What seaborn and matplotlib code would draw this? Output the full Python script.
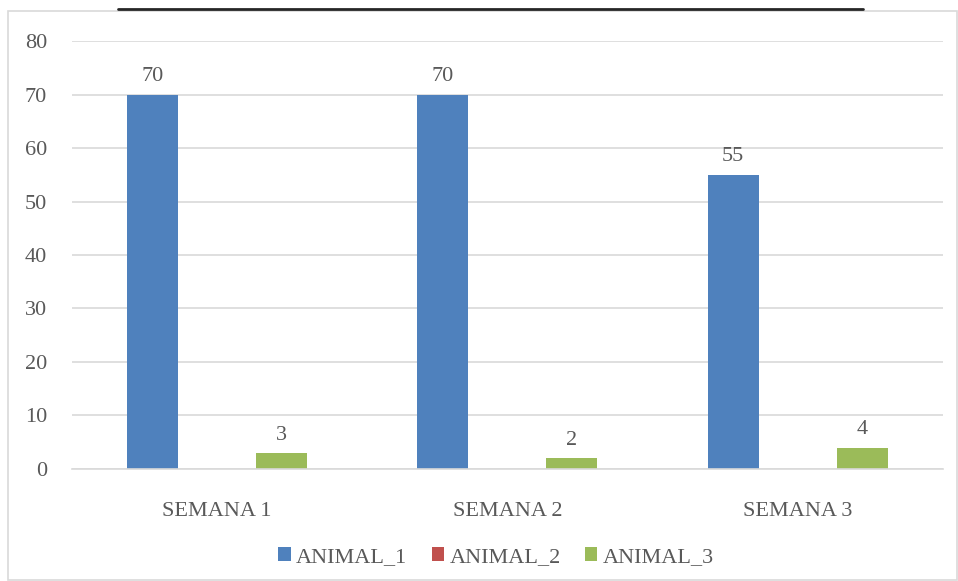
import pandas as pd
import matplotlib.pyplot as plt
import matplotlib.patches as mpatches
import matplotlib.lines as mlines
import seaborn as sns

# Data
semanas = ['SEMANA 1', 'SEMANA 2', 'SEMANA 3']
animal_1 = [70, 70, 55]
animal_2 = [0, 0, 0]
animal_3 = [3, 2, 4]
series_names = ['ANIMAL_1', 'ANIMAL_2', 'ANIMAL_3']
colors = ['#4F81BD', '#C0504D', '#9BBB59']
TEXT_COLOR = '#595959'
FS = 16

df = pd.DataFrame({
    'Semana': semanas * 3,
    'Serie': [s for s in series_names for _ in semanas],
    'Valor': animal_1 + animal_2 + animal_3,
})

sns.set_theme(style='white')
plt.rcParams['font.family'] = ['Liberation Serif', 'DejaVu Serif']

fig = plt.figure(figsize=(9.58, 5.81), dpi=100)
ax = fig.add_axes([0.0752, 0.1928, 0.9088, 0.7366])

sns.barplot(data=df, x='Semana', y='Valor', hue='Serie', palette=colors,
            width=0.667, gap=0.21, ax=ax, legend=False, saturation=1, linewidth=0)

ax.set_ylim(0, 80)
ax.set_yticks(range(0, 81, 10))
ax.set_xlim(-0.5, 2.5)
ax.grid(axis='y', color='#D9D9D9', linewidth=1.2)
ax.set_axisbelow(True)
for side in ['top', 'right', 'left']:
    ax.spines[side].set_visible(False)
ax.spines['bottom'].set_color('#D9D9D9')
ax.spines['bottom'].set_linewidth(1.2)
ax.tick_params(axis='both', length=0, colors=TEXT_COLOR, labelsize=FS)
ax.tick_params(axis='x', pad=24)
ax.tick_params(axis='y', pad=18)
ax.set_xlabel('')
ax.set_ylabel('')

# Data labels (zero series has none)
for cont, name in zip(ax.containers, series_names):
    if name == 'ANIMAL_2':
        continue
    ax.bar_label(cont, padding=6, fontsize=FS, color=TEXT_COLOR)

# Legend
handles = [mpatches.Patch(facecolor=c, edgecolor='none', label=n) for c, n in zip(colors, series_names)]
fig.legend(handles=handles, loc='center', bbox_to_anchor=(0.518, 0.041), ncol=3, frameon=False,
           fontsize=FS, handlelength=0.55, handleheight=0.55, handletextpad=0.25, columnspacing=1.1,
           labelcolor=TEXT_COLOR)

# Chart border and the black line on top
fig.patches.append(mpatches.Rectangle((8 / 958, 1 / 581), 949 / 958, 569 / 581, transform=fig.transFigure,
                                      fill=False, edgecolor='#D9D9D9', linewidth=1.2))
fig.lines.append(mlines.Line2D([118 / 958, 863 / 958], [1 - 9 / 581, 1 - 9 / 581], transform=fig.transFigure,
                               color='#262626', linewidth=2))

fig.savefig('out.png', dpi=100)
